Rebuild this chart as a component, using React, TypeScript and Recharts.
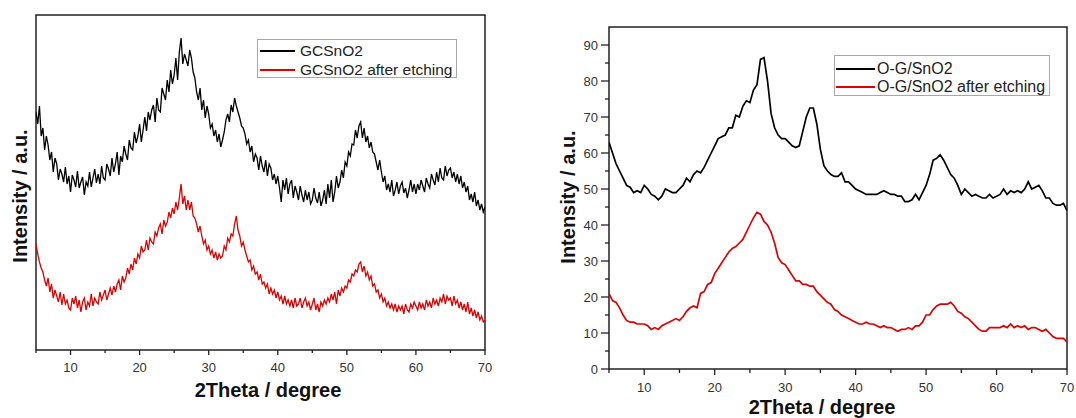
import React from 'react';
import { LineChart, Line, XAxis, YAxis, ReferenceArea } from 'recharts';

// ---------- data ----------
const leftSeriesNames = ['GCSnO2', 'GCSnO2 after etching'];
const rightSeriesNames = ['O-G/SnO2', 'O-G/SnO2 after etching'];
const seriesColors = ['#000000', '#e00000'];

const xTicks = [5, 10, 15, 20, 25, 30, 35, 40, 45, 50, 55, 60, 65, 70];
const rightYTicks = [0, 5, 10, 15, 20, 25, 30, 35, 40, 45, 50, 55, 60, 65, 70, 75, 80, 85, 90];

const thetaStart = 5;
const leftStep = 0.25;
const rightStep = 0.5;

// left panel (arbitrary units), 2theta 5..70 every 0.25
const leftBlack = [
  238, 226, 244, 214, 222, 200, 214, 205, 190, 198, 178, 192, 186, 170, 181, 176,
  168, 183, 166, 174, 158, 175, 170, 163, 179, 162, 168, 173, 155, 168, 164, 178,
  163, 172, 181, 167, 176, 166, 184, 172, 170, 186, 181, 174, 192, 178, 186, 198,
  175, 194, 188, 204, 196, 190, 210, 202, 200, 218, 207, 214, 226, 208, 220, 233,
  219, 238, 230, 240, 245, 228, 252, 240, 238, 262, 256, 250, 270, 258, 280, 266,
  275, 292, 270, 298, 312, 286, 296, 290, 284, 300, 292, 278, 272, 258, 250, 262,
  240, 250, 232, 244, 236, 222, 226, 214, 220, 208, 216, 203, 210, 218, 230, 236,
  228, 245, 238, 252, 244, 238, 232, 224, 222, 216, 206, 210, 198, 204, 188, 196,
  192, 180, 194, 184, 178, 190, 174, 186, 182, 170, 176, 166, 174, 162, 148, 170,
  160, 172, 156, 166, 170, 152, 164, 158, 150, 164, 155, 148, 160, 150, 158, 146,
  150, 162, 152, 147, 158, 144, 150, 160, 146, 166, 152, 170, 148, 158, 174, 162,
  168, 180, 172, 188, 184, 198, 194, 206, 205, 220, 212, 224, 228, 212, 222, 208,
  214, 202, 208, 198, 196, 188, 180, 190, 178, 168, 174, 160, 166, 158, 170, 154,
  160, 168, 156, 164, 168, 157, 162, 152, 160, 170, 158, 166, 156, 166, 160, 170,
  164, 158, 172, 166, 162, 176, 170, 165, 178, 168, 182, 172, 170, 184, 174, 180,
  182, 172, 178, 168, 176, 166, 174, 162, 168, 158, 164, 150, 156, 148, 158, 144,
  150, 140, 146, 138, 143,
];

const leftRed = [
  106, 96, 88, 82, 78, 70, 64, 72, 58, 66, 52, 60, 54, 48, 58, 45,
  56, 46, 50, 42, 40, 52, 46, 54, 42, 50, 38, 48, 52, 40, 48, 44,
  56, 44, 52, 48, 46, 58, 50, 55, 60, 50, 56, 62, 55, 64, 58, 66,
  70, 60, 74, 68, 72, 82, 76, 86, 80, 92, 86, 96, 92, 104, 98, 100,
  110, 100, 112, 108, 106, 118, 114, 122, 126, 116, 130, 124, 128, 138, 132, 142,
  136, 148, 140, 152, 166, 146, 154, 140, 150, 140, 148, 134, 132, 126, 118, 124,
  114, 106, 110, 100, 104, 96, 100, 92, 98, 90, 96, 92, 94, 104, 100, 112,
  108, 116, 114, 126, 134, 120, 114, 104, 108, 100, 94, 88, 90, 80, 84, 76,
  78, 70, 76, 66, 68, 62, 66, 56, 62, 56, 60, 52, 58, 50, 54, 46,
  54, 46, 50, 44, 50, 42, 52, 44, 46, 52, 42, 48, 52, 44, 48, 40,
  46, 52, 40, 46, 38, 48, 44, 50, 46, 52, 48, 56, 50, 58, 46, 60,
  54, 62, 58, 64, 62, 70, 68, 76, 74, 80, 78, 86, 88, 78, 84, 74,
  78, 70, 74, 64, 66, 58, 60, 52, 56, 48, 52, 44, 48, 42, 46, 40,
  46, 38, 44, 40, 44, 36, 46, 40, 38, 46, 42, 48, 44, 40, 48, 42,
  46, 40, 50, 44, 48, 42, 52, 46, 50, 44, 52, 48, 56, 46, 54, 50,
  52, 44, 54, 46, 50, 42, 48, 40, 46, 38, 48, 36, 42, 34, 40, 32,
  38, 30, 34, 28, 30,
];

// right panel, 2theta 5..70 every 0.5
const rightBlack = [
  63, 60, 57, 55, 53, 51, 50.5, 49, 49.5, 49,
  51, 50, 48.5, 48, 47, 48, 50, 49.5, 49, 49,
  50, 51, 53, 52, 54, 55, 54.5, 56, 58, 60,
  62, 64, 64.5, 65, 67, 67, 70.5, 70, 73, 74.5,
  74, 77.5, 79, 86, 86.5, 80, 71, 67, 65, 64,
  64, 63, 62, 61.5, 62, 66, 70, 72.5, 72.5, 68,
  61, 56.5, 55, 54, 53.5, 53.5, 54.5, 52, 52, 51,
  50, 49.5, 49, 48.5, 48.5, 48.5, 48.5, 49, 49.5, 49,
  48.5, 48.5, 48, 48, 46.5, 46.5, 47, 48.5, 47, 49,
  51, 54, 58, 58.5, 59.5, 58, 56, 54, 53, 51,
  48.5, 50, 49, 48, 48.5, 48, 47.5, 47.5, 48.5, 47.5,
  48, 48.5, 50, 48.5, 49.5, 49, 49.5, 49, 50, 52,
  50, 50.5, 51, 49.5, 47.5, 47.5, 46, 45.5, 45.5, 46,
  44,
];

const rightRed = [
  21, 19, 18.5, 17, 15, 13.5, 13, 13, 12.5, 12.5,
  12.5, 12, 11, 11.5, 11, 12, 12.5, 13, 13.5, 14,
  13.5, 14.5, 16, 17, 17.5, 17, 21, 21.5, 23.5, 24,
  26.5, 28, 29.5, 31, 32.5, 33.5, 34, 35, 36, 38,
  40, 42, 43.5, 43, 41, 40, 38, 35, 31, 29.5,
  29, 27.5, 26, 24.5, 24.5, 23.5, 23.5, 23, 23, 21.5,
  20.5, 19.5, 18.5, 18, 16.5, 16, 15, 14.5, 14, 13.5,
  13, 12.5, 12.5, 13, 12.5, 12.5, 12, 11.5, 12, 11.5,
  11.5, 11, 10.5, 11, 11, 11.5, 11, 12, 12, 13,
  15, 15, 16.5, 17.5, 18, 18, 18, 18.5, 17.5, 16,
  15.5, 14.5, 14, 13, 12, 11, 10.5, 10.5, 11.5, 11.5,
  11.5, 11.5, 12, 11.5, 12.5, 11.5, 12, 11.5, 12, 11,
  11.5, 11.5, 11, 10.5, 11, 10, 9, 8.5, 8.5, 8.5,
  7.5,
];

const leftData = leftBlack.map((v, i) => ({ theta: thetaStart + i * leftStep, s0: v, s1: leftRed[i] }));
const rightData = rightBlack.map((v, i) => ({ theta: thetaStart + i * rightStep, s0: v, s1: rightRed[i] }));

// ---------- styling helpers ----------
const FONT = '"Liberation Sans", Arial, sans-serif';
const AXIS_COLOR = '#222';

const makeXTick = (labelDy: number, majorLen: number, minorLen: number) => (props: any) => {
  const { x, y, payload } = props;
  const v = payload.value;
  const major = v % 10 === 0;
  return (
    <g>
      <line x1={x} x2={x} y1={y} y2={y + (major ? majorLen : minorLen)} stroke={AXIS_COLOR} strokeWidth={1.3} />
      {major ? (
        <text x={x} y={y + labelDy} textAnchor="middle" fontSize={13} fill="#333" fontFamily={FONT}>
          {v}
        </text>
      ) : null}
    </g>
  );
};

const rightYTick = (props: any) => {
  const { x, y, payload } = props;
  const v = payload.value;
  const major = v % 10 === 0;
  return (
    <g>
      <line x1={x} x2={x - (major ? 8 : 4)} y1={y} y2={y} stroke={AXIS_COLOR} strokeWidth={1.3} />
      {major ? (
        <text x={x - 11} y={y + 4.5} textAnchor="end" fontSize={13} fill="#333" fontFamily={FONT}>
          {v}
        </text>
      ) : null}
    </g>
  );
};

const Title = ({ text, cx, cy, vertical }: { text: string; cx: number; cy: number; vertical?: boolean }) => (
  <div
    style={{
      position: 'absolute',
      left: cx,
      top: cy,
      transform: `translate(-50%, -50%)${vertical ? ' rotate(-90deg)' : ''}`,
      fontFamily: FONT,
      fontWeight: 'bold',
      fontSize: 20,
      lineHeight: '22px',
      whiteSpace: 'nowrap',
      color: '#111',
    }}
  >
    {text}
  </div>
);

const LegendBox = ({
  names, left, top, width, height, rowCenters, lineLeft, lineWidth, textLeft, fontSize,
}: {
  names: string[]; left: number; top: number; width: number; height: number; rowCenters: number[];
  lineLeft: number; lineWidth: number; textLeft: number; fontSize: number;
}) => (
  <div style={{ position: 'absolute', left, top, width, height, border: '1px solid #a8a8a8', background: '#fff', boxSizing: 'border-box' }}>
    {names.map((n, i) => (
      <React.Fragment key={n}>
        <div
          style={{
            position: 'absolute',
            left: lineLeft - left - 1,
            top: rowCenters[i] - top - 2,
            width: lineWidth,
            height: 2,
            background: seriesColors[i],
          }}
        />
        <div
          style={{
            position: 'absolute',
            left: textLeft - left - 1,
            top: rowCenters[i] - top - 11,
            height: 20,
            lineHeight: '20px',
            fontSize,
            fontFamily: FONT,
            color: '#222',
            whiteSpace: 'nowrap',
          }}
        >
          {n}
        </div>
      </React.Fragment>
    ))}
  </div>
);

export default function App() {
  return (
    <div style={{ position: 'fixed', left: 0, top: 0, width: 1076, height: 418, background: '#fff', overflow: 'hidden' }}>
      {/* Left panel: plot area x 36..485, y 15..350 */}
      <div style={{ position: 'absolute', left: 0, top: 0 }}>
        <LineChart width={500} height={418} data={leftData} margin={{ top: 15, right: 15, left: 36, bottom: 38 }}>
          <XAxis
            dataKey="theta"
            type="number"
            domain={[5, 70]}
            ticks={xTicks}
            interval={0}
            allowDataOverflow
            axisLine={false}
            tickLine={false}
            tickSize={0}
            tickMargin={0}
            height={30}
            tick={makeXTick(21.5, 5, 3)}
          />
          <YAxis hide width={0} type="number" domain={[0, 335]} allowDataOverflow />
          <Line dataKey="s1" name={leftSeriesNames[1]} stroke={seriesColors[1]} strokeWidth={1.3} dot={false} isAnimationActive={false} type="linear" />
          <Line dataKey="s0" name={leftSeriesNames[0]} stroke={seriesColors[0]} strokeWidth={1.3} dot={false} isAnimationActive={false} type="linear" />
          <ReferenceArea x1={5} x2={70} y1={0} y2={335} fill="none" stroke={AXIS_COLOR} strokeWidth={1.5} />
        </LineChart>
      </div>

      {/* Right panel: plot area x 609..1067, y 27..369 */}
      <div style={{ position: 'absolute', left: 540, top: 0 }}>
        <LineChart width={536} height={418} data={rightData} margin={{ top: 27, right: 9, left: 29, bottom: 19 }}>
          <XAxis
            dataKey="theta"
            type="number"
            domain={[5, 70]}
            ticks={xTicks}
            interval={0}
            allowDataOverflow
            axisLine={false}
            tickLine={false}
            tickSize={0}
            tickMargin={0}
            height={30}
            tick={makeXTick(22.5, 6, 4)}
          />
          <YAxis
            type="number"
            domain={[0, 95]}
            ticks={rightYTicks}
            interval={0}
            allowDataOverflow
            axisLine={false}
            tickLine={false}
            tickSize={0}
            tickMargin={0}
            width={40}
            tick={rightYTick}
          />
          <Line dataKey="s1" name={rightSeriesNames[1]} stroke={seriesColors[1]} strokeWidth={1.7} dot={false} isAnimationActive={false} type="linear" />
          <Line dataKey="s0" name={rightSeriesNames[0]} stroke={seriesColors[0]} strokeWidth={1.7} dot={false} isAnimationActive={false} type="linear" />
          <ReferenceArea x1={5} x2={70} y1={0} y2={95} fill="none" stroke={AXIS_COLOR} strokeWidth={1.5} />
        </LineChart>
      </div>

      <LegendBox names={leftSeriesNames} left={257} top={39} width={200} height={39} rowCenters={[51, 70]} lineLeft={260} lineWidth={35} textLeft={300} fontSize={15.5} />
      <LegendBox names={rightSeriesNames} left={834} top={55} width={216} height={41} rowCenters={[69, 87]} lineLeft={836} lineWidth={39} textLeft={877} fontSize={16} />

      <Title text="2Theta / degree" cx={268} cy={390} />
      <Title text="Intensity / a.u." cx={20} cy={196} vertical />
      <Title text="2Theta / degree" cx={822} cy={407} />
      <Title text="Intensity / a.u." cx={568} cy={197} vertical />
    </div>
  );
}
